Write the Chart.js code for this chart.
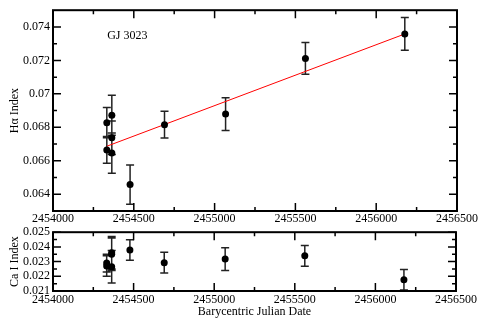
<!DOCTYPE html>
<html>
<head>
<meta charset="utf-8">
<script src="https://cdn.jsdelivr.net/npm/chart.js@4.4.1/dist/chart.umd.min.js"></script>
<style>
  html, body { margin: 0; padding: 0; background: #fff; }
  #wrap { position: relative; width: 479px; height: 325px; }
  #hal { position: absolute; left: 0; top: 0; }
  #cai { position: absolute; left: 0; top: 222px; }
</style>
</head>
<body>
<div id="wrap">
  <canvas id="hal" width="479" height="228"></canvas>
  <canvas id="cai" width="479" height="103"></canvas>
</div>
<script>
// observation dates (BJD) and measured indices
const dates = [2454333, 2454333, 2454364, 2454364, 2454364, 2454477, 2454690, 2455068, 2455562, 2456177];
const halpha = [0.06828, 0.06665, 0.06872, 0.06738, 0.06646, 0.06458, 0.06816, 0.06879, 0.07212, 0.07358];
const halphaErr = [0.0009, 0.0008, 0.0012, 0.0010, 0.0012, 0.00117, 0.0008, 0.00098, 0.00095, 0.00098];
const caI = [0.02290, 0.02270, 0.02360, 0.02350, 0.02265, 0.02379, 0.02293, 0.02317, 0.02339, 0.02176];
const caErr = [0.0006, 0.0007, 0.0011, 0.0011, 0.0011, 0.0007, 0.0007, 0.00078, 0.0007, 0.0007];

// linear fit to H-alpha
const fitDates = [2454333, 2456177];
const fitHalpha = [0.06687, 0.07358];

const dateTicks = [2454000, 2454500, 2455000, 2455500, 2456000, 2456500];
const halphaTicks = [0.064, 0.066, 0.068, 0.07, 0.072, 0.074];
const caTicks = [0.021, 0.022, 0.023, 0.024, 0.025];

Chart.defaults.font.family = "'Liberation Serif', 'DejaVu Serif', serif";
Chart.defaults.font.size = 12;
Chart.defaults.color = "#000";

function midpoints(t) {
  const m = [];
  for (let i = 0; i < t.length - 1; i++) m.push((t[i] + t[i + 1]) / 2);
  return m;
}

function errorBars(values, errors) {
  return {
    id: "errorBars",
    beforeDatasetsDraw(chart) {
      const {ctx, scales: {x, y}} = chart;
      ctx.save();
      ctx.strokeStyle = "#222";
      ctx.lineWidth = 1.5;
      ctx.beginPath();
      values.forEach((v, i) => {
        const px = x.getPixelForValue(dates[i]);
        const top = y.getPixelForValue(v + errors[i]);
        const bot = y.getPixelForValue(v - errors[i]);
        ctx.moveTo(px, top); ctx.lineTo(px, bot);
        ctx.moveTo(px - 4, top); ctx.lineTo(px + 4, top);
        ctx.moveTo(px - 4, bot); ctx.lineTo(px + 4, bot);
      });
      ctx.stroke();
      ctx.restore();
    }
  };
}

// box with inward major + minor ticks on all four sides
const frame = {
  id: "frame",
  afterDatasetsDraw(chart) {
    const {ctx, chartArea: a, scales: {x, y}} = chart;
    const xt = x.ticks.map(t => t.value);
    const yt = y.ticks.map(t => t.value);
    ctx.save();
    ctx.strokeStyle = "#000";
    ctx.lineWidth = 1.5;
    ctx.beginPath();
    const xMarks = (vals, len) => vals.forEach(v => {
      const px = x.getPixelForValue(v);
      ctx.moveTo(px, a.bottom); ctx.lineTo(px, a.bottom - len);
      ctx.moveTo(px, a.top); ctx.lineTo(px, a.top + len);
    });
    const yMarks = (vals, len) => vals.forEach(v => {
      const py = y.getPixelForValue(v);
      ctx.moveTo(a.left, py); ctx.lineTo(a.left + len, py);
      ctx.moveTo(a.right, py); ctx.lineTo(a.right - len, py);
    });
    xMarks(xt, 8); xMarks(midpoints(xt), 4);
    yMarks(yt, 8); yMarks(midpoints(yt), 4);
    ctx.stroke();
    ctx.lineWidth = 2;
    ctx.strokeRect(a.left, a.top, a.right - a.left, a.bottom - a.top);
    ctx.restore();
  }
};

const starLabel = {
  id: "starLabel",
  afterDatasetsDraw(chart) {
    const {ctx, scales: {x, y}} = chart;
    ctx.save();
    ctx.font = "12px 'Liberation Serif', serif";
    ctx.fillStyle = "#000";
    ctx.textAlign = "center";
    ctx.textBaseline = "middle";
    ctx.fillText("GJ 3023", x.getPixelForValue(2454460), y.getPixelForValue(0.07348));
    ctx.restore();
  }
};

function pointsOf(values) {
  return values.map((v, i) => ({x: dates[i], y: v}));
}

function xScale(height, pad, title) {
  return {
    type: "linear",
    min: 2454000,
    max: 2456500,
    afterBuildTicks: s => { s.ticks = dateTicks.map(v => ({value: v})); },
    afterFit: s => { s.height = height; },
    grid: {display: false, drawTicks: false},
    border: {display: false},
    ticks: {padding: pad, autoSkip: false, maxRotation: 0, callback: v => String(v)},
    title: title ? {display: true, text: title, padding: {top: 0, bottom: 6}} : {display: false}
  };
}

function yScale(min, max, tickVals, title) {
  return {
    min: min,
    max: max,
    afterBuildTicks: s => { s.ticks = tickVals.map(v => ({value: v})); },
    afterFit: s => { s.width = 53; },
    grid: {display: false, drawTicks: false},
    border: {display: false},
    ticks: {padding: 3, autoSkip: false, callback: v => String(+v.toFixed(4))},
    title: {display: true, text: title, padding: {top: 8, bottom: 0}}
  };
}

const common = {
  responsive: false,
  animation: false,
  plugins: {legend: {display: false}, tooltip: {enabled: false}}
};

new Chart(document.getElementById("hal"), {
  type: "scatter",
  data: {
    datasets: [
      {data: pointsOf(halpha), backgroundColor: "#000", borderWidth: 0, pointRadius: 3.5},
      {type: "line", data: fitDates.map((d, i) => ({x: d, y: fitHalpha[i]})),
       borderColor: "#ff0000", borderWidth: 1, pointRadius: 0, fill: false}
    ]
  },
  options: Object.assign({}, common, {
    layout: {padding: {top: 7, right: 21, left: 0, bottom: 0}},
    scales: {
      x: xScale(17, 1, null),
      y: yScale(0.063, 0.075, halphaTicks, "H\u03b1 Index")
    }
  }),
  plugins: [errorBars(halpha, halphaErr), frame, starLabel]
});

new Chart(document.getElementById("cai"), {
  type: "scatter",
  data: {
    datasets: [
      {data: pointsOf(caI), backgroundColor: "#000", borderWidth: 0, pointRadius: 3.5}
    ]
  },
  options: Object.assign({}, common, {
    layout: {padding: {top: 9, right: 21, left: 0, bottom: 0}},
    scales: {
      x: xScale(34, 2, "Barycentric Julian Date"),
      y: yScale(0.021, 0.025, caTicks, "Ca I Index")
    }
  }),
  plugins: [errorBars(caI, caErr), frame]
});
</script>
</body>
</html>
